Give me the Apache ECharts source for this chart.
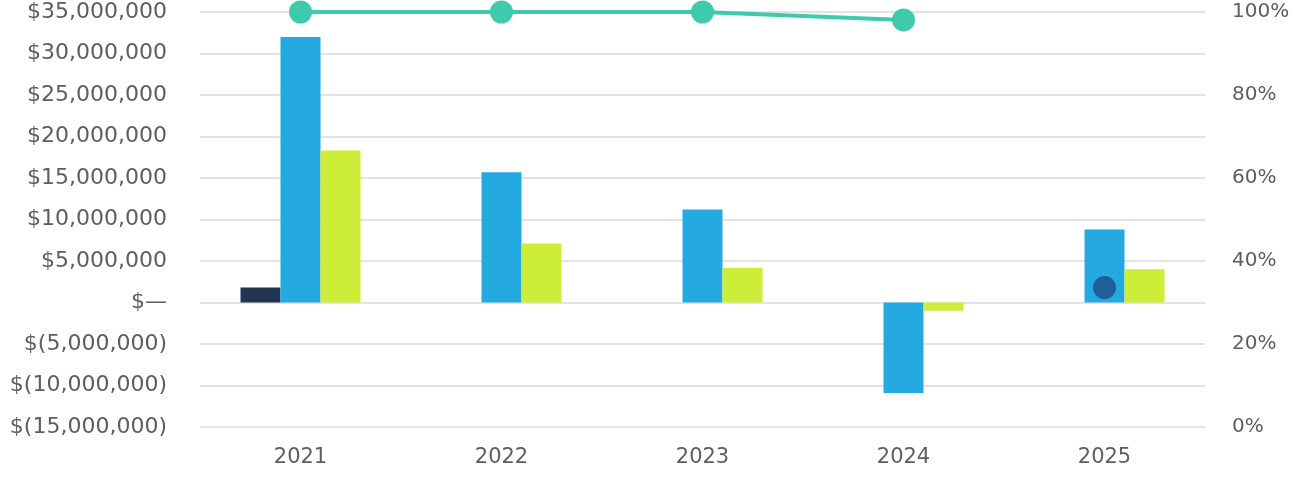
<!DOCTYPE html>
<html>
<head>
<meta charset="utf-8">
<script src="https://cdn.jsdelivr.net/npm/echarts@6/dist/echarts.min.js"></script>
<style>
html,body{margin:0;padding:0;background:#fff;}
#chart{width:1304px;height:480px;}
</style>
</head>
<body>
<div id="chart"></div>
<script>
const categories = ['2021', '2022', '2023', '2024', '2025'];
const seriesNavy = [1800000, null, null, null, null];
const seriesBlue = [32000000, 15700000, 11200000, -10900000, 8800000];
const seriesLime = [18300000, 7100000, 4200000, -1000000, 4000000];
const seriesPct = [100, 100, 100, 98.1, null];
const seriesDot = [null, null, null, null, 1800000];

const FONT = '"DejaVu Sans", sans-serif';
const chart = echarts.init(document.getElementById('chart'));

function fmtMoney(v) {
  if (v === 0) return '$\u2014';
  const s = Math.abs(v).toLocaleString('en-US');
  return v < 0 ? '$(' + s + ')' : '$' + s;
}

chart.setOption({
  animation: false,
  grid: { left: 200, right: 99, top: 12, bottom: 53, containLabel: false },
  xAxis: {
    type: 'category',
    data: categories,
    axisLine: { show: false },
    axisTick: { show: false },
    axisLabel: { color: '#5e5e5e', fontSize: 21, fontFamily: FONT, margin: 20 }
  },
  yAxis: [
    {
      type: 'value', min: -15000000, max: 35000000, interval: 5000000,
      axisLine: { show: false }, axisTick: { show: false },
      splitLine: { lineStyle: { color: '#e4e4e4', width: 2 } },
      axisLabel: { color: '#5e5e5e', fontSize: 22, fontFamily: FONT, margin: 33, formatter: fmtMoney }
    },
    {
      type: 'value', min: 0, max: 100, interval: 20,
      axisLine: { show: false }, axisTick: { show: false },
      splitLine: { show: false },
      axisLabel: { color: '#5e5e5e', fontSize: 20, fontFamily: FONT, margin: 27, formatter: '{value}%' }
    }
  ],
  series: [
    { type: 'bar', data: seriesNavy, barWidth: 40, barGap: '0%', itemStyle: { color: '#22344f' } },
    { type: 'bar', data: seriesBlue, barWidth: 40, barGap: '0%', itemStyle: { color: '#24aae1' } },
    { type: 'bar', data: seriesLime, barWidth: 40, barGap: '0%', itemStyle: { color: '#ccee38' } },
    { type: 'line', yAxisIndex: 1, data: seriesPct, symbol: 'circle', symbolSize: 23,
      lineStyle: { color: '#3fcbab', width: 4 }, itemStyle: { color: '#3fcbab' }, z: 5 },
    { type: 'scatter', data: seriesDot, symbol: 'circle', symbolSize: 23,
      itemStyle: { color: '#1f4b85' }, z: 6 }
  ]
});
</script>
</body>
</html>
